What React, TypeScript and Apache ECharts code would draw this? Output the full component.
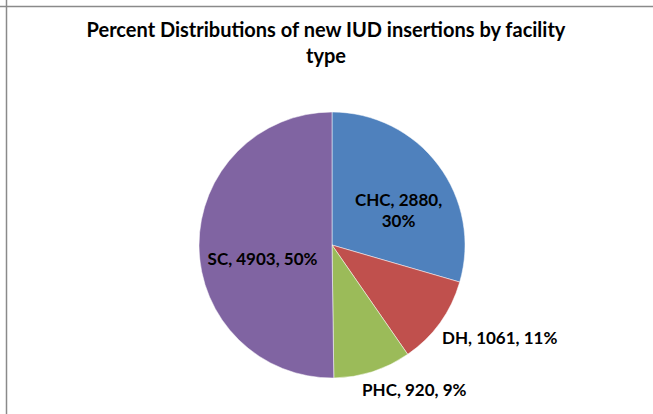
import React, { useEffect, useRef } from "react";
import * as echarts from "echarts";

const categories = ["CHC", "DH", "PHC", "SC"];
const values = [2880, 1061, 920, 4903];
const percentLabels = ["30%", "11%", "9%", "50%"];
const colors = ["#4F81BD", "#C0504D", "#9BBB59", "#8064A2"];
const titleText = "Percent Distributions of new IUD insertions by facility\ntype";

const FONT = "Lato, 'Open Sans', sans-serif";

export default function App() {
  const ref = useRef<HTMLDivElement>(null);
  useEffect(() => {
    if (!ref.current) return;
    const chart = echarts.init(ref.current, undefined, { renderer: "svg" });
    const labelShift: Record<number, { dx: number; dy: number }> = {
      0: { dx: 11, dy: 7 },
      1: { dx: -7, dy: 12 },
      2: { dx: -17, dy: 13 },
      3: { dx: 0, dy: 13 },
    };
    const data = categories.map((name, i) => ({
      name,
      value: values[i],
      itemStyle: { color: colors[i] },
      label: {
        position: i === 0 || i === 3 ? "inside" : "outside",
        formatter:
          i === 0
            ? `${name}, ${values[i]},\n${percentLabels[i]}`
            : `${name}, ${values[i]}, ${percentLabels[i]}`,
      },
    }));
    chart.setOption({
      animation: false,
      backgroundColor: "#ffffff",
      title: {
        text: titleText,
        left: 321,
        top: 11,
        textAlign: "center",
        textStyle: {
          fontFamily: FONT,
          fontSize: 20,
          fontWeight: "bold",
          color: "#000",
          lineHeight: 26,
        },
      },
      graphic: [
        {
          type: "line",
          shape: { x1: 0, y1: 6.5, x2: 653, y2: 6.5 },
          style: { stroke: "#8a8a8a", lineWidth: 1.5 },
        },
        {
          type: "line",
          shape: { x1: 6.5, y1: 0, x2: 6.5, y2: 414 },
          style: { stroke: "#8a8a8a", lineWidth: 1.5 },
        },
      ],
      series: [
        {
          type: "pie",
          center: [332, 245],
          radius: [0, 133],
          startAngle: 90,
          clockwise: true,
          avoidLabelOverlap: false,
          itemStyle: { borderColor: "#ffffff", borderWidth: 0.5 },
          label: {
            show: true,
            fontFamily: FONT,
            fontSize: 17,
            fontWeight: "bold",
            color: "#000",
            lineHeight: 21,
            align: "center",
          },
          labelLine: { show: false, length: 5, length2: 0 },
          labelLayout: (params: any) => labelShift[params.dataIndex] || {},
          emphasis: { disabled: true },
          data,
        },
      ],
    });
    return () => chart.dispose();
  }, []);
  return (
    <div
      ref={ref}
      style={{ position: "absolute", left: 0, top: 0, width: 653, height: 414 }}
    />
  );
}
